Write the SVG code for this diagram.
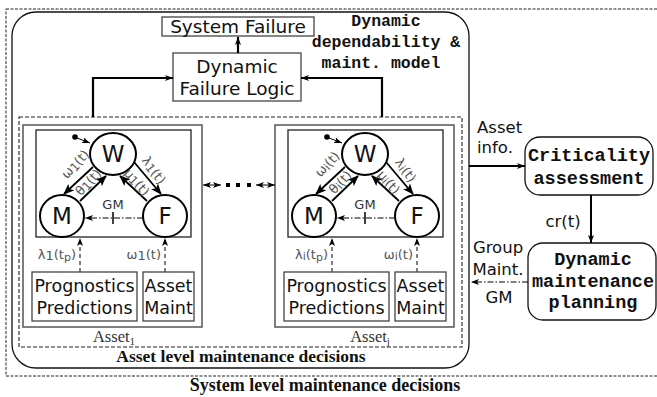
<svg xmlns="http://www.w3.org/2000/svg" width="657" height="397" viewBox="0 0 657 397">
<style>
.sans{font-family:"DejaVu Sans","Liberation Sans",sans-serif;fill:#111;}
.mono{font-family:"Liberation Mono","DejaVu Sans Mono",monospace;font-weight:bold;fill:#111;}
.serifb{font-family:"Liberation Serif","DejaVu Serif",serif;font-weight:bold;fill:#111;}
.serif{font-family:"Liberation Serif","DejaVu Serif",serif;fill:#333;}
.box{fill:#fff;stroke:#444;stroke-width:1.3;}
.st{fill:#fff;stroke:#000;stroke-width:2;}
.lbl{font-family:"DejaVu Sans",sans-serif;font-size:13px;fill:#555;}
.thick{fill:none;stroke:#000;stroke-width:2.2;}
.arr{fill:none;stroke:#000;stroke-width:1.8;}
.dashv{fill:none;stroke:#000;stroke-width:1;stroke-dasharray:4,3;}
.dd{fill:none;stroke:#000;stroke-width:1;stroke-dasharray:6,2,1.5,2;}
</style>
<defs>
<marker id="ah" markerUnits="userSpaceOnUse" markerWidth="11" markerHeight="9" refX="10" refY="4.5" orient="auto"><path d="M0,0 L11,4.5 L0,9 L2.5,4.5 z" fill="#000"/></marker>
<marker id="sm" markerUnits="userSpaceOnUse" markerWidth="8" markerHeight="6" refX="8" refY="3" orient="auto-start-reverse"><path d="M0,0 L8,3 L0,6 L2,3 z" fill="#000"/></marker>
<g id="statecore">
<rect x="23" y="125" width="179" height="202" fill="none" stroke="#555" stroke-width="1.5"/>
<rect x="36" y="130" width="155" height="107" fill="none" stroke="#222" stroke-width="1.3"/>
<ellipse cx="113" cy="154" rx="23" ry="21" class="st"/>
<ellipse cx="62" cy="216" rx="22" ry="21" class="st"/>
<ellipse cx="165" cy="216" rx="22" ry="21" class="st"/>
<text class="sans" x="113" y="162" font-size="23" text-anchor="middle">W</text>
<text class="sans" x="62" y="224" font-size="23" text-anchor="middle">M</text>
<text class="sans" x="165" y="224" font-size="23" text-anchor="middle">F</text>
<circle cx="75" cy="137" r="2.8" fill="#000"/>
<line x1="77" y1="138" x2="90" y2="143" stroke="#000" stroke-width="1" marker-end="url(#sm)"/>
<line x1="93" y1="167" x2="64" y2="194" class="arr" marker-end="url(#ah)"/>
<line x1="80" y1="201" x2="106" y2="176" class="arr" marker-end="url(#ah)"/>
<line x1="147" y1="201" x2="120" y2="176" class="arr" marker-end="url(#ah)"/>
<line x1="134" y1="162" x2="161" y2="194" class="arr" marker-end="url(#ah)"/>
<line x1="143" y1="218" x2="85" y2="218" class="dd" marker-end="url(#sm)"/>
<line x1="113" y1="212" x2="113" y2="224" stroke="#000" stroke-width="1.5"/>
<text class="lbl" x="113" y="209" text-anchor="middle" style="fill:#333">GM</text>
<line x1="80" y1="272" x2="80" y2="238" class="dashv" marker-end="url(#sm)"/>
<line x1="165" y1="272" x2="165" y2="238" class="dashv" marker-end="url(#sm)"/>
<rect x="32" y="272" width="105" height="49" class="box"/>
<rect x="143" y="272" width="51" height="49" class="box"/>
<text class="sans" x="84.5" y="292" font-size="17.5" text-anchor="middle">Prognostics</text>
<text class="sans" x="84.5" y="314" font-size="17.5" text-anchor="middle">Predictions</text>
<text class="sans" x="168.5" y="292" font-size="17.5" text-anchor="middle">Asset</text>
<text class="sans" x="168.5" y="314" font-size="17.5" text-anchor="middle">Maint</text>
</g>
</defs>

<g id="system-level">
<rect x="6" y="9" width="700" height="367" fill="none" stroke="#222" stroke-width="1" stroke-dasharray="3,1.5"/>
<text class="serifb" x="325" y="391" font-size="18" text-anchor="middle">System level maintenance decisions</text>
</g>

<g id="dyn-model">
<rect x="12" y="12" width="457" height="356" rx="24" fill="none" stroke="#111" stroke-width="1.3"/>
<text class="mono" x="386" y="26" font-size="16.5" text-anchor="middle">Dynamic</text>
<text class="mono" x="386" y="47" font-size="16.5" text-anchor="middle">dependability &amp;</text>
<text class="mono" x="381" y="68" font-size="16.5" text-anchor="middle">maint. model</text>
</g>

<g id="asset-level">
<rect x="19" y="117" width="443" height="230" fill="none" stroke="#222" stroke-width="1.1" stroke-dasharray="4,2"/>
<text class="serifb" x="241" y="362" font-size="17.5" text-anchor="middle">Asset level maintenance decisions</text>
</g>

<g id="system-failure">
<rect x="162" y="17" width="152" height="19" class="box"/>
<text class="sans" x="238" y="33" font-size="18.5" text-anchor="middle">System Failure</text>
</g>

<g id="dynamic-failure-logic">
<rect x="173" y="53" width="128" height="48" class="box"/>
<text class="sans" x="237" y="73" font-size="18.5" text-anchor="middle">Dynamic</text>
<text class="sans" x="237" y="95" font-size="18.5" text-anchor="middle">Failure Logic</text>
</g>

<g id="asset1">
<use href="#statecore"/>
<g transform="translate(75,164) rotate(-48)"><text class="lbl" text-anchor="middle" dominant-baseline="central">ω<tspan font-size="12" dy="2">1</tspan><tspan dy="-2">(t)</tspan></text></g>
<g transform="translate(88,182) rotate(-48)"><text class="lbl" text-anchor="middle" dominant-baseline="central">θ<tspan font-size="12" dy="2">1</tspan><tspan dy="-2">(t)</tspan></text></g>
<g transform="translate(137,182) rotate(48)"><text class="lbl" text-anchor="middle" dominant-baseline="central">μ<tspan font-size="12" dy="2">1</tspan><tspan dy="-2">(t)</tspan></text></g>
<g transform="translate(154,170) rotate(53)"><text class="lbl" text-anchor="middle" dominant-baseline="central">λ<tspan font-size="12" dy="2">1</tspan><tspan dy="-2">(t)</tspan></text></g>
<text class="lbl" x="76" y="259" text-anchor="end">λ<tspan dy="1">1</tspan><tspan dy="-1">(t</tspan><tspan font-size="11" dy="2">p</tspan><tspan dy="-2">)</tspan></text>
<text class="lbl" x="161" y="259" text-anchor="end">ω<tspan dy="1">1</tspan><tspan dy="-1">(t)</tspan></text>
<text class="serif" x="114" y="342" font-size="16.5" text-anchor="middle">Asset<tspan font-size="11" dy="3">1</tspan></text>
</g>

<g id="assetj" transform="translate(252,0)">
<use href="#statecore"/>
<g transform="translate(75,164) rotate(-48)"><text class="lbl" text-anchor="middle" dominant-baseline="central">ω<tspan font-size="11" dy="2">i</tspan><tspan dy="-2">(t)</tspan></text></g>
<g transform="translate(88,182) rotate(-48)"><text class="lbl" text-anchor="middle" dominant-baseline="central">θ<tspan font-size="11" dy="2">i</tspan><tspan dy="-2">(t)</tspan></text></g>
<g transform="translate(137,182) rotate(48)"><text class="lbl" text-anchor="middle" dominant-baseline="central">μ<tspan font-size="11" dy="2">i</tspan><tspan dy="-2">(t)</tspan></text></g>
<g transform="translate(154,170) rotate(53)"><text class="lbl" text-anchor="middle" dominant-baseline="central">λ<tspan font-size="11" dy="2">i</tspan><tspan dy="-2">(t)</tspan></text></g>
<text class="lbl" x="76" y="259" text-anchor="end">λ<tspan font-size="11" dy="1">i</tspan><tspan dy="-1">(t</tspan><tspan font-size="11" dy="2">p</tspan><tspan dy="-2">)</tspan></text>
<text class="lbl" x="161" y="259" text-anchor="end">ω<tspan font-size="11" dy="1">i</tspan><tspan dy="-1">(t)</tspan></text>
<text class="serif" x="118" y="342" font-size="16.5" text-anchor="middle">Asset<tspan font-size="11" dy="3">j</tspan></text>
</g>

<g id="criticality">
<rect x="525" y="137" width="128" height="58" rx="15" fill="#fff" stroke="#111" stroke-width="1.3"/>
<text class="mono" x="589" y="161" font-size="18.5" text-anchor="middle">Criticality</text>
<text class="mono" x="589" y="184" font-size="18.5" text-anchor="middle">assessment</text>
</g>

<g id="planning">
<rect x="528" y="243" width="128" height="77" rx="15" fill="#fff" stroke="#111" stroke-width="1.3"/>
<text class="mono" x="593" y="265" font-size="18.5" text-anchor="middle">Dynamic</text>
<text class="mono" x="593" y="287" font-size="18.5" text-anchor="middle">maintenance</text>
<text class="mono" x="593" y="308" font-size="18.5" text-anchor="middle">planning</text>
</g>

<g id="connectors">
<line x1="238" y1="53" x2="238" y2="37" stroke="#000" stroke-width="2.2" marker-end="url(#sm)"/>
<polyline points="93,117 93,78 173,78" class="thick" marker-end="url(#sm)"/>
<polyline points="382,117 382,78 301,78" class="thick" marker-end="url(#sm)"/>
<line x1="203" y1="185" x2="221" y2="185" stroke="#000" stroke-width="1" marker-start="url(#sm)" marker-end="url(#sm)"/>
<rect x="226" y="183" width="4" height="4" fill="#000"/>
<rect x="236" y="183" width="4" height="4" fill="#000"/>
<rect x="247" y="183" width="4" height="4" fill="#000"/>
<line x1="256" y1="185" x2="275" y2="185" stroke="#000" stroke-width="1" marker-start="url(#sm)" marker-end="url(#sm)"/>
<line x1="469" y1="166" x2="525" y2="166" stroke="#000" stroke-width="2" marker-end="url(#sm)"/>
<text class="sans" x="477" y="133" font-size="16.5">Asset</text>
<text class="sans" x="477" y="153" font-size="16.5">info.</text>
<line x1="591" y1="195" x2="591" y2="243" stroke="#000" stroke-width="2" marker-end="url(#sm)"/>
<text class="sans" x="563" y="227" font-size="16.5" text-anchor="middle">cr(t)</text>
<line x1="528" y1="282" x2="471" y2="282" class="dd" marker-end="url(#sm)"/>
<text class="sans" x="498" y="253" font-size="16.5" text-anchor="middle">Group</text>
<text class="sans" x="498" y="275" font-size="16.5" text-anchor="middle">Maint.</text>
<text class="sans" x="499" y="303" font-size="16.5" text-anchor="middle">GM</text>
</g>
</svg>
